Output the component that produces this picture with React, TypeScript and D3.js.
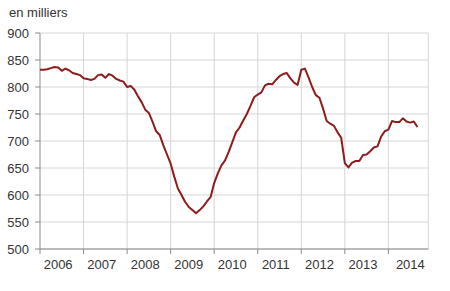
import React from "react";
import * as d3 from "d3";

// Monthly values, Jan 2006 – Sep 2014 (thousands)
const values: number[] = [
  832, 832, 833, 835, 837, 836, 830, 834, 831, 826, 824, 822, // 2006
  816, 815, 813, 815, 822, 823, 817, 824, 821, 815, 812, 810, // 2007
  800, 802, 795, 783, 772, 758, 752, 736, 718, 711, 692, 675, // 2008
  658, 634, 612, 600, 587, 578, 572, 566, 572, 579, 588, 596, // 2009
  622, 640, 655, 664, 680, 698, 716, 725, 738, 750, 765, 781, // 2010
  786, 790, 803, 806, 805, 813, 820, 824, 826, 816, 808, 804, // 2011
  832, 834, 818, 800, 785, 780, 760, 737, 732, 728, 716, 706, // 2012
  659, 651, 660, 663, 663, 674, 675, 681, 688, 690, 708, 718, // 2013
  721, 737, 735, 735, 742, 736, 734, 736, 726,               // 2014
];

const years: string[] = ["2006", "2007", "2008", "2009", "2010", "2011", "2012", "2013", "2014"];
const yTicks: number[] = [500, 550, 600, 650, 700, 750, 800, 850, 900];
const unitLabel = "en milliers";

const W = 450;
const H = 291;
const left = 40;
const right = 428.3;
const top = 33;
const bottom = 249;
const lastMonth = 107;

export default function App() {
  const x = d3.scaleLinear().domain([0, lastMonth]).range([left, right]);
  const y = d3.scaleLinear().domain([500, 900]).range([bottom, top]);
  const line = d3
    .line<number>()
    .x((_, i) => x(i))
    .y((d) => y(d))
    .curve(d3.curveLinear);

  const font = "Arial, 'Liberation Sans', sans-serif";
  const textColor = "#333";
  const grid = "#d6d6d6";
  const axis = "#8a8a8a";

  return (
    <svg
      width={W}
      height={H}
      style={{ position: "absolute", left: 0, top: 0, display: "block", background: "#fff" }}
      fontFamily={font}
    >
      <text x={9} y={16.5} fontSize={13} fill={textColor}>
        {unitLabel}
      </text>
      {/* horizontal gridlines */}
      {yTicks.map((t) => (
        <line key={"h" + t} x1={left} x2={right} y1={y(t)} y2={y(t)} stroke={grid} strokeWidth={1} />
      ))}
      {/* vertical gridlines at year starts */}
      {years.map((yr, k) =>
        k === 0 ? null : (
          <line key={"v" + yr} x1={x(k * 12)} x2={x(k * 12)} y1={top} y2={bottom} stroke={grid} strokeWidth={1} />
        )
      )}
      <line x1={right} x2={right} y1={top} y2={bottom} stroke={grid} strokeWidth={1} />
      {/* axes */}
      <line x1={left} x2={left} y1={top} y2={bottom} stroke={axis} strokeWidth={1} />
      <line x1={left} x2={right} y1={bottom} y2={bottom} stroke={axis} strokeWidth={1} />
      {yTicks.map((t) => (
        <g key={"yt" + t}>
          <line x1={left - 5} x2={left} y1={y(t)} y2={y(t)} stroke={axis} strokeWidth={1} />
          <text x={29} y={y(t)} dy="0.35em" textAnchor="end" fontSize={13} fill={textColor}>
            {t}
          </text>
        </g>
      ))}
      {years.map((yr, k) => {
        const s = k * 12;
        const full = s + 12 <= lastMonth;
        const cx = full ? x(s + 5) : (x(s) + x(lastMonth)) / 2 + 2;
        return (
          <g key={"xt" + yr}>
            <line x1={x(s)} x2={x(s)} y1={bottom} y2={bottom + 5} stroke={axis} strokeWidth={1} />
            <text x={cx} y={264.5} dy="0.35em" textAnchor="middle" fontSize={13} fill={textColor}>
              {yr}
            </text>
          </g>
        );
      })}
      <path d={line(values) || ""} fill="none" stroke="#8e1c1c" strokeWidth={2} strokeLinejoin="round" />
    </svg>
  );
}
